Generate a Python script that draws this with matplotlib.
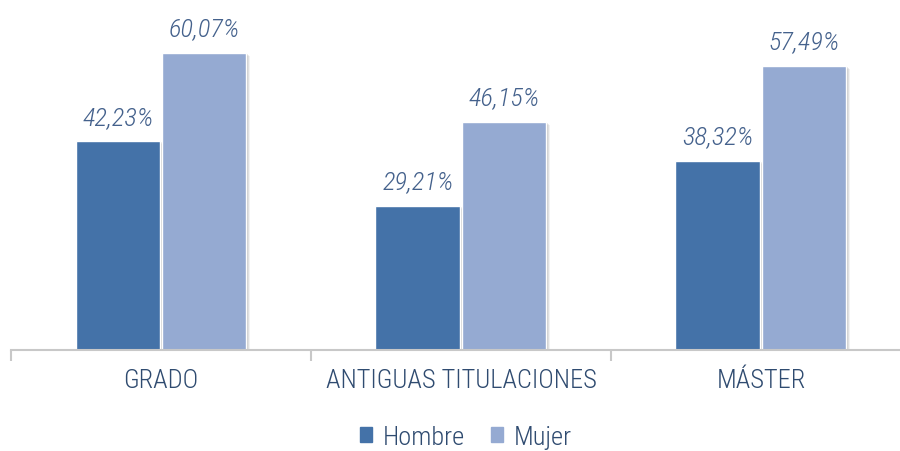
import numpy as np
import matplotlib.pyplot as plt
from matplotlib.patches import Patch

plt.rcParams['font.family'] = ['Roboto Condensed', 'DejaVu Sans']
plt.rcParams['font.weight'] = 'light'

# Datos
categorias = ['GRADO', 'ANTIGUAS TITULACIONES', 'MÁSTER']
series = ['Hombre', 'Mujer']
hombre = [42.23, 29.21, 38.32]
mujer = [60.07, 46.15, 57.49]
etiquetas_hombre = ['42,23%', '29,21%', '38,32%']
etiquetas_mujer = ['60,07%', '46,15%', '57,49%']

col_hombre = '#4472A8'
col_mujer = '#95AAD2'
col_texto = '#2F4B70'
col_etiq = '#44618C'

fig = plt.figure(figsize=(9, 4.52), dpi=100)
ax = fig.add_axes([11 / 900, 101 / 452, 1.0, 351 / 452])

x = np.arange(len(categorias))
w = 0.283
off = 0.1435

# Sombra suave
for dx, dy, a in [(0.012, -0.6, 0.05), (0.008, -0.4, 0.07), (0.004, -0.2, 0.09)]:
    for vals, o in [(hombre, -off), (mujer, off)]:
        ax.bar(x + o + dx, np.array(vals) + 0.3, w, bottom=dy - 0.3,
               color='black', alpha=a, linewidth=0, zorder=1)

b1 = ax.bar(x - off, hombre, w, color=col_hombre, edgecolor='white',
            linewidth=1, zorder=3)
b2 = ax.bar(x + off, mujer, w, color=col_mujer, edgecolor='white',
            linewidth=1, zorder=3)

for bars, labs in [(b1, etiquetas_hombre), (b2, etiquetas_mujer)]:
    for r, t in zip(bars, labs):
        ax.annotate(t, (r.get_x() + r.get_width() / 2, r.get_height()),
                    xytext=(0, 9), textcoords='offset points',
                    ha='center', va='bottom', fontsize=19, style='italic',
                    color=col_etiq)

ax.set_xlim(-0.5, 2.5)
ax.set_ylim(0, 71)
ax.set_xticks(x)
ax.set_xticklabels(categorias, fontsize=19, color=col_texto)
ax.tick_params(axis='x', which='major', length=0, pad=13)
ax.set_xticks([-0.5, 0.5, 1.5, 2.5], minor=True)
ax.tick_params(axis='x', which='minor', length=8, width=1.5, color='#C8C8C8')
ax.set_yticks([])
for s in ['top', 'right', 'left']:
    ax.spines[s].set_visible(False)
ax.spines['bottom'].set_color('#C8C8C8')
ax.spines['bottom'].set_linewidth(1.5)
ax.spines['bottom'].set_zorder(4)

handles = [Patch(color=col_hombre), Patch(color=col_mujer)]
fig.legend(handles, series, loc='center', bbox_to_anchor=(466 / 900, 14 / 452),
           ncol=2, frameon=False, fontsize=19, handlelength=0.46,
           handleheight=0.46, handletextpad=0.4, columnspacing=1.0,
           labelcolor=col_texto)

fig.savefig('out.png', dpi=100)
